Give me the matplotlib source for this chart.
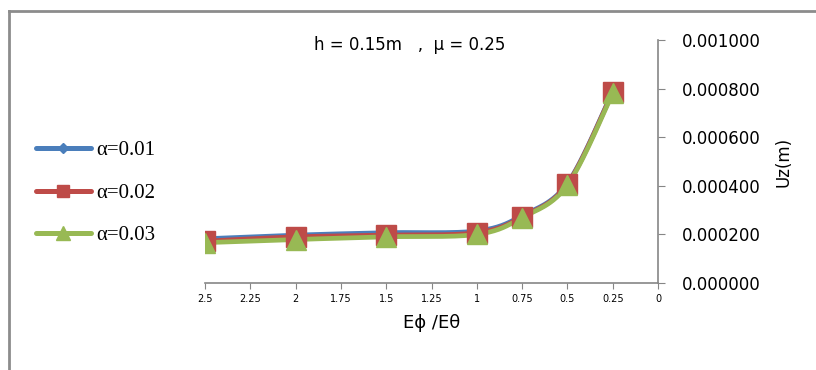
import numpy as np
import matplotlib
matplotlib.use("Agg")
import matplotlib.pyplot as plt
from matplotlib.lines import Line2D

# ---- data ----
ratio = [2.5, 2.0, 1.5, 1.0, 0.75, 0.5, 0.25]
uz_a001 = [0.000182, 0.000197, 0.000207, 0.000214, 0.000277, 0.000410, 0.000788]
uz_a002 = [0.000172, 0.000190, 0.000197, 0.000207, 0.000272, 0.000407, 0.000786]
uz_a003 = [0.000166, 0.000179, 0.000190, 0.000200, 0.000269, 0.000403, 0.000780]
labels = ["\u03b1=0.01", "\u03b1=0.02", "\u03b1=0.03"]
xticks = [2.5, 2.25, 2.0, 1.75, 1.5, 1.25, 1.0, 0.75, 0.5, 0.25, 0.0]
xtick_labels = ["2.5", "2.25", "2", "1.75", "1.5", "1.25", "1", "0.75", "0.5", "0.25", "0"]
yticks = [0.0, 0.0002, 0.0004, 0.0006, 0.0008, 0.001]


def catmull(x, y, n=30):
    x = np.asarray(x, float)
    y = np.asarray(y, float)
    px = np.concatenate([[x[0]], x, [x[-1]]])
    py = np.concatenate([[y[0]], y, [y[-1]]])
    t = np.linspace(0, 1, n)
    ox, oy = [], []
    for i in range(1, len(px) - 2):
        for arr, out in ((px, ox), (py, oy)):
            p0, p1, p2, p3 = arr[i - 1], arr[i], arr[i + 1], arr[i + 2]
            out.extend(0.5 * ((2 * p1) + (-p0 + p2) * t + (2 * p0 - 5 * p1 + 4 * p2 - p3) * t ** 2
                              + (-p0 + 3 * p1 - 3 * p2 + p3) * t ** 3))
    return np.array(ox), np.array(oy)


W, H = 816, 370
fig = plt.figure(figsize=(W / 100, H / 100), dpi=100)
ax = fig.add_axes([205 / W, 1 - 283 / H, (658 - 205) / W, (283 - 40) / H])

colors = ["#4A7EBB", "#BE4B48", "#98B954"]
markers = ["D", "s", "^"]
msizes = [5, 14, 15]
leg_ms = [5, 9, 9.5]
series = [uz_a001, uz_a002, uz_a003]
handles = []
for s, c, m, ms, lms, lab in zip(series, colors, markers, msizes, leg_ms, labels):
    sx, sy = catmull(ratio, s)
    ax.plot(sx, sy, color=c, lw=3.4, solid_capstyle="round", zorder=2)
    ax.plot(ratio, s, linestyle="none", marker=m, ms=ms, color=c, mec=c, zorder=3)
    handles.append(Line2D([], [], color=c, lw=3.6, marker=m, ms=lms, mec=c,
                          solid_capstyle="round"))

ax.set_xlim(2.5, 0)
ax.set_ylim(0, 0.001)
ax.set_xticks(xticks)
ax.set_xticklabels(xtick_labels, fontsize=7)
ax.set_yticks(yticks)
ax.set_yticklabels([f"{v:.6f}" for v in yticks], fontsize=12)
ax.yaxis.tick_right()
ax.yaxis.set_label_position("right")
for sp in ["top", "left"]:
    ax.spines[sp].set_visible(False)
for sp in ["right", "bottom"]:
    ax.spines[sp].set_color("#868686")
    ax.spines[sp].set_linewidth(1.2)
ax.tick_params(axis="x", direction="out", length=4, color="#868686", pad=4)
ax.tick_params(axis="y", direction="out", length=5, color="#868686", pad=12)
ax.patch.set_alpha(0)

ax.set_xlabel("E\u03d5 /E\u03b8", fontsize=13, labelpad=7)
ax.set_ylabel("Uz(m)", fontsize=12, labelpad=10)

fig.text(410 / W, 1 - 45 / H, "h = 0.15m   ,  \u03bc = 0.25", fontsize=12,
         ha="center", va="center")

leg = fig.legend(handles, labels, loc="center left", bbox_to_anchor=(17 / W, 1 - 193 / H),
                 frameon=False, handlelength=2.65, labelspacing=1.1, handletextpad=0.25,
                 prop={"family": "Liberation Serif", "size": 15})

# chart frame border
fig.add_artist(Line2D([9 / W, 9 / W], [0, 1 - 11 / H], color="#8c8c8c", lw=2,
                      transform=fig.transFigure))
fig.add_artist(Line2D([9 / W, 1], [1 - 11 / H, 1 - 11 / H], color="#8c8c8c", lw=2,
                      transform=fig.transFigure))

fig.savefig("out.png", dpi=100)
